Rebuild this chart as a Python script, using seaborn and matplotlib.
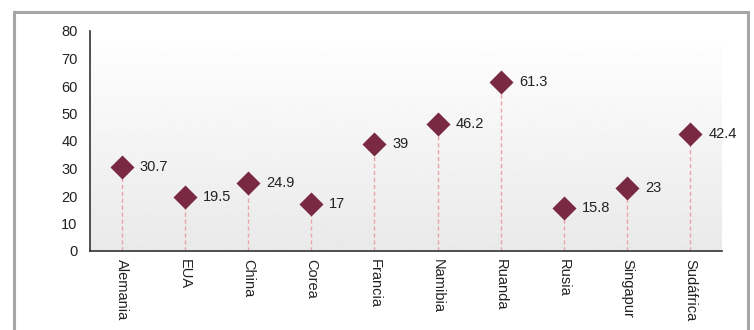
import numpy as np
import pandas as pd
import matplotlib
matplotlib.use("Agg")
import matplotlib.pyplot as plt
from matplotlib.patches import Rectangle
import seaborn as sns

paises = ["Alemania", "EUA", "China", "Corea", "Francia", "Namibia",
          "Ruanda", "Rusia", "Singapur", "Sudáfrica"]
valores = [30.7, 19.5, 24.9, 17, 39, 46.2, 61.3, 15.8, 23, 42.4]
etiquetas = ["30.7", "19.5", "24.9", "17", "39", "46.2", "61.3", "15.8", "23", "42.4"]
y_ticks = [0, 10, 20, 30, 40, 50, 60, 70, 80]

df = pd.DataFrame({"pais": paises, "valor": valores})

sns.set_theme(style="white")
plt.rcParams["font.family"] = ["Liberation Sans", "DejaVu Sans"]

FS = 10.5

fig = plt.figure(figsize=(7.54, 3.30), dpi=100)
ax = fig.add_axes([90 / 754, 1 - 251 / 330, 632 / 754, 220 / 330])

# outer frame of the figure
fig.patches.append(Rectangle((14 / 754, -0.1), 734 / 754, 1.1 - 12 / 330,
                             transform=fig.transFigure, fill=False,
                             edgecolor="#a6a6a6", linewidth=2.2, zorder=0))

# vertical gradient behind the plot area
grad = np.linspace(1.0, 0.915, 256).reshape(-1, 1)
ax.imshow(grad, extent=[-0.5, 9.5, 0, 80], aspect="auto", cmap="gray",
          vmin=0, vmax=1, zorder=0, interpolation="bicubic")

x = np.arange(len(paises))
ax.vlines(x, 0, df["valor"], colors="#eba3aa", linestyles=(0, (3, 2)),
          linewidth=1.0, zorder=2)
sns.scatterplot(x=x, y=df["valor"], marker="D", s=150, color="#7a2943",
                linewidth=0, ax=ax, zorder=3, legend=False)

for xi, v, t in zip(x, valores, etiquetas):
    ax.annotate(t, (xi, v), xytext=(13, 0), textcoords="offset points",
                va="center", ha="left", fontsize=FS, color="#222222")

ax.set_xlim(-0.5, 9.5)
ax.set_ylim(0, 80)
ax.set_yticks(y_ticks)
ax.set_yticklabels([str(v) for v in y_ticks], fontsize=FS, color="#222222")
ax.set_xticks(x)
ax.set_xticklabels(paises, rotation=-90, fontsize=FS, color="#222222",
                   va="top", ha="center")
ax.tick_params(axis="y", length=0, pad=9)
ax.tick_params(axis="x", length=0, pad=6)
ax.set_xlabel("")
ax.set_ylabel("")

for side in ["top", "right"]:
    ax.spines[side].set_visible(False)
for side in ["left", "bottom"]:
    ax.spines[side].set_color("#333333")
    ax.spines[side].set_linewidth(1.2)

fig.patch.set_facecolor("white")
fig.savefig("out.png", dpi=100)
